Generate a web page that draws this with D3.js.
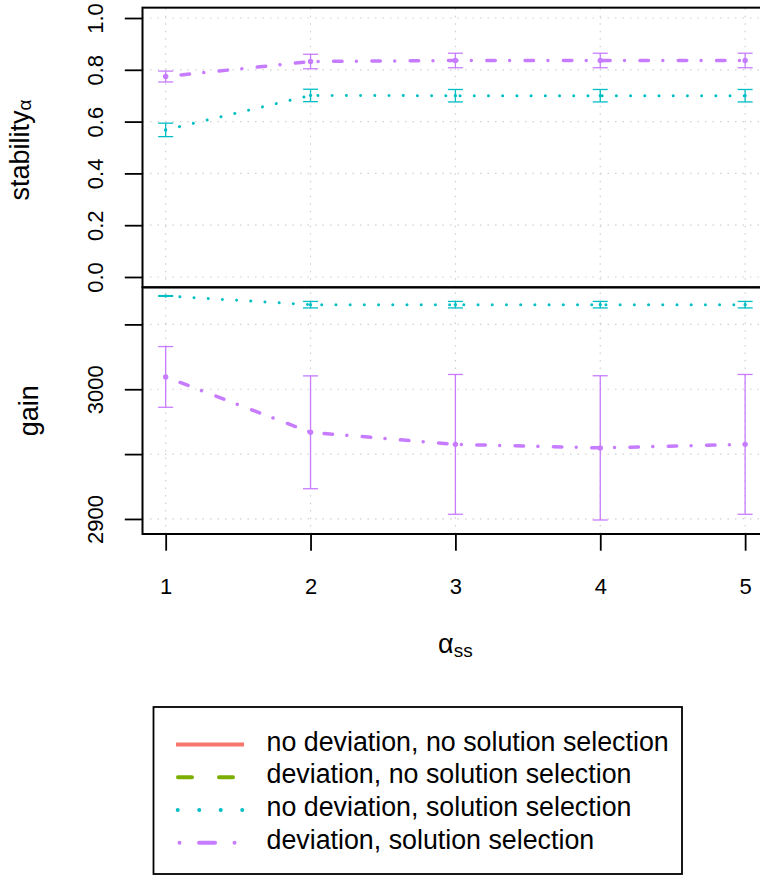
<!DOCTYPE html>
<html><head><meta charset="utf-8">
<script src="https://cdn.jsdelivr.net/npm/d3@7"></script>
<style>
html,body{margin:0;padding:0;background:#fff;overflow:hidden;}
svg{display:block;font-family:"Liberation Sans",Arial,Helvetica,sans-serif;}
</style></head><body>
<svg id="chart" width="760" height="875"></svg>
<script>
// x positions (alpha_ss)
const alphaSS = [1, 2, 3, 4, 5];
const seriesNames = [
  "no deviation, no solution selection",
  "deviation, no solution selection",
  "no deviation, solution selection",
  "deviation, solution selection"
];
// stability: mean and error-bar half width
const stabilitySelMean    = [0.568, 0.701, 0.700, 0.700, 0.700];
const stabilitySelErr     = [0.026, 0.024, 0.024, 0.024, 0.024];
const stabilityDevSelMean = [0.774, 0.832, 0.836, 0.836, 0.836];
const stabilityDevSelErr  = [0.021, 0.028, 0.028, 0.028, 0.028];
// gain: mean and error-bar half width
const gainSelMean    = [3071.9, 3065.2, 3065.2, 3065.2, 3065.2];
const gainSelErr     = [0.3, 2.5, 2.5, 2.5, 2.5];
const gainDevSelMean = [3009.5, 2966.8, 2957.5, 2954.8, 2957.5];
const gainDevSelErr  = [23.4, 43.5, 53.9, 55.6, 53.9];
// axis ticks
const stabilityTicks = [0, 0.2, 0.4, 0.6, 0.8, 1.0];
const gainTicks = [2900, 2950, 3000, 3050];
const gainTickLabels = ["2900", "", "3000", ""];

const colors = ["#F8766D", "#7CAE00", "#00BFC4", "#C77CFF"];

const svg = d3.select("#chart");
const x = d3.scaleLinear().domain([0.84, 5.16]).range([142.5, 768.3]);
const yTop = d3.scaleLinear().domain([-0.04, 1.04]).range([287.35, 7.65]);
const yBot = d3.scaleLinear().domain([2888.4, 3078.6]).range([534, 287.3]);

const left = x.range()[0], right = x.range()[1];
const gridColor = "#cfcfcf";

function panel(yScale, ticks, labels) {
  const g = svg.append("g");
  const [y0, y1] = yScale.range();
  // grid
  g.selectAll(".hg").data(ticks).join("line")
    .attr("x1", left).attr("x2", right)
    .attr("y1", d => yScale(d)).attr("y2", d => yScale(d))
    .attr("stroke", gridColor).attr("stroke-width", 1.2)
    .attr("stroke-dasharray", "1.5 6");
  g.selectAll(".vg").data(alphaSS).join("line")
    .attr("x1", d => x(d)).attr("x2", d => x(d))
    .attr("y1", y0).attr("y2", y1)
    .attr("stroke", gridColor).attr("stroke-width", 1.2)
    .attr("stroke-dasharray", "1.5 6");
  // left axis
  const ax = g.append("g").attr("transform", `translate(${left},0)`)
    .call(d3.axisLeft(yScale).tickValues(ticks).tickSize(17.7)
      .tickFormat((d, i) => labels[i]));
  ax.select(".domain").remove();
  ax.selectAll(".tick line").attr("stroke", "#000").attr("stroke-width", 1.8);
  ax.selectAll(".tick text")
    .attr("transform", "rotate(-90)")
    .attr("x", 0).attr("y", 103 - left).attr("dy", null)
    .attr("text-anchor", "middle")
    .attr("font-size", 22).attr("fill", "#000")
    .attr("font-family", "Liberation Sans, Arial, sans-serif");
  return g;
}

panel(yTop, stabilityTicks, stabilityTicks.map(d3.format(".1f")));
panel(yBot, gainTicks, gainTickLabels);

// bottom x axis
const xa = svg.append("g").attr("transform", "translate(0,534)")
  .call(d3.axisBottom(x).tickValues(alphaSS).tickSize(16.7).tickFormat(d3.format("d")));
xa.select(".domain").remove();
xa.selectAll(".tick line").attr("stroke", "#000").attr("stroke-width", 1.8);
xa.selectAll(".tick text").attr("y", 60.3).attr("dy", null)
  .attr("font-size", 22).attr("fill", "#000")
  .attr("font-family", "Liberation Sans, Arial, sans-serif");

// series drawing
function series(yScale, mean, err, color, lineStyle, pointR) {
  const g = svg.append("g");
  const idx = d3.range(alphaSS.length);
  const line = d3.line().x(i => x(alphaSS[i])).y(i => yScale(mean[i]));
  g.append("path").attr("d", line(idx))
    .attr("fill", "none").attr("stroke", color)
    .attr("stroke-width", lineStyle.w)
    .attr("stroke-linecap", "round")
    .attr("stroke-dasharray", lineStyle.dash);
  idx.forEach(i => {
    const cx = x(alphaSS[i]);
    const lo = yScale(mean[i] - err[i]), hi = yScale(mean[i] + err[i]);
    g.append("line").attr("x1", cx).attr("x2", cx).attr("y1", lo).attr("y2", hi)
      .attr("stroke", color).attr("stroke-width", 1.3);
    [lo, hi].forEach(yy => g.append("line")
      .attr("x1", cx - 7.5).attr("x2", cx + 7.5).attr("y1", yy).attr("y2", yy)
      .attr("stroke", color).attr("stroke-width", 1.3));
    g.append("circle").attr("cx", cx).attr("cy", yScale(mean[i])).attr("r", pointR)
      .attr("fill", color);
  });
}
const dotted = {w: 3, dash: "0.01 14.2"};
const dotdash = {w: 3.5, dash: "0.01 15.45 8.5 14.34"};

series(yTop, stabilitySelMean, stabilitySelErr, colors[2], dotted, 1.6);
series(yTop, stabilityDevSelMean, stabilityDevSelErr, colors[3], dotdash, 2.7);
series(yBot, gainSelMean, gainSelErr, colors[2], dotted, 1.6);
series(yBot, gainDevSelMean, gainDevSelErr, colors[3], dotdash, 2.7);

// panel boxes
[yTop, yBot].forEach(s => {
  const [y0, y1] = s.range();
  svg.append("rect").attr("x", left).attr("y", y1)
    .attr("width", right - left).attr("height", y0 - y1)
    .attr("fill", "none").attr("stroke", "#000").attr("stroke-width", 2);
});

// axis titles
const yl1 = svg.append("text").attr("transform", "translate(28.5,150) rotate(-90)")
  .attr("text-anchor", "middle").attr("font-size", 27).attr("fill", "#000");
yl1.append("tspan").text("stability");
yl1.append("tspan").attr("font-size", 19).attr("dy", 2).text("α");

svg.append("text").attr("transform", "translate(37.5,410.7) rotate(-90)")
  .attr("text-anchor", "middle").attr("font-size", 27).attr("fill", "#000").text("gain");

const xl = svg.append("text").attr("x", (left + right) / 2).attr("y", 653.3)
  .attr("text-anchor", "middle").attr("font-size", 27).attr("fill", "#000");
xl.append("tspan").text("α");
xl.append("tspan").attr("font-size", 19).attr("dy", 3.4).text("ss");

// legend
const legendStyles = [
  {w: 4, dash: null, x0: 176, x1: 244, cap: "butt"},
  {w: 4, dash: "14 27", x0: 178, x1: 242, cap: "round"},
  {w: 4, dash: "0.01 21.5", x0: 177.7, x1: 243, cap: "round"},
  {w: 4, dash: "0.01 19.5 16 19.5", x0: 179.5, x1: 236, cap: "round"}
];
const lg = svg.append("g");
lg.append("rect").attr("x", 153.5).attr("y", 707).attr("width", 528.5).attr("height", 167)
  .attr("fill", "#fff").attr("stroke", "#000").attr("stroke-width", 1.8);
seriesNames.forEach((name, i) => {
  const ry = 744.6 + i * 32.7;
  const st = legendStyles[i];
  lg.append("line").attr("x1", st.x0).attr("x2", st.x1).attr("y1", ry).attr("y2", ry)
    .attr("stroke", colors[i]).attr("stroke-width", st.w)
    .attr("stroke-linecap", st.cap)
    .attr("stroke-dasharray", st.dash);
  lg.append("text").attr("x", 266.5).attr("y", ry + 6).attr("font-size", 26.8)
    .attr("fill", "#000").text(name);
});
</script>
</body></html>
